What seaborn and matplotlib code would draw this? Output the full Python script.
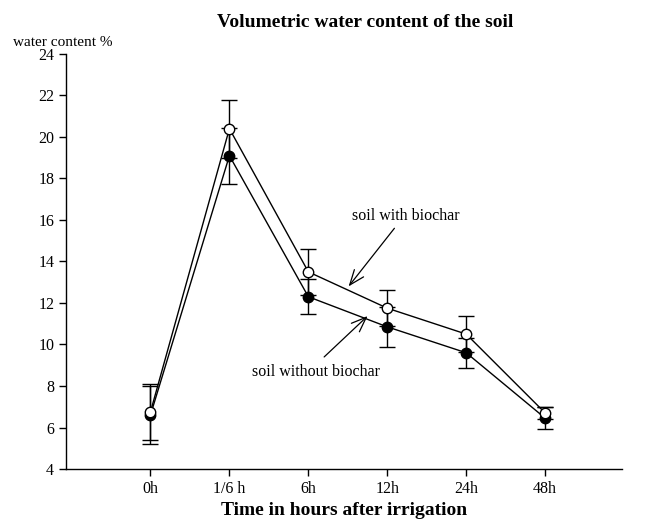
import numpy as np
import pandas as pd
import seaborn as sns
import matplotlib.pyplot as plt

times = ["0h", "1/6 h", "6h", "12h", "24h", "48h"]
with_biochar = [6.75, 20.4, 13.5, 11.75, 10.5, 6.7]
with_biochar_err = [1.35, 1.4, 1.1, 0.87, 0.87, 0.3]
without_biochar = [6.6, 19.1, 12.3, 10.85, 9.6, 6.45]
without_biochar_err = [1.4, 1.35, 0.85, 0.97, 0.72, 0.53]

sns.set_theme(style="ticks")
plt.rcParams["font.family"] = ["Liberation Serif", "DejaVu Serif"]
plt.rcParams["text.color"] = "black"

pos = np.arange(len(times))
df = pd.concat([
    pd.DataFrame({"pos": pos, "value": without_biochar, "err": without_biochar_err,
                  "series": "soil without biochar"}),
    pd.DataFrame({"pos": pos, "value": with_biochar, "err": with_biochar_err,
                  "series": "soil with biochar"}),
])

fig = plt.figure(figsize=(6.47, 5.21), dpi=100)
ax = fig.add_axes([0.102, 0.0998, 0.859, 0.7966])

styles = {
    "soil without biochar": "black",
    "soil with biochar": "white",
}
for name, face in styles.items():
    sub = df[df["series"] == name]
    ax.errorbar(sub["pos"], sub["value"], yerr=sub["err"], fmt="none",
                ecolor="black", elinewidth=1, capsize=5.5, capthick=1, zorder=2)
    sns.lineplot(data=sub, x="pos", y="value", ax=ax, color="black",
                 linewidth=1, marker="o", markersize=7.5,
                 markerfacecolor=face, markeredgecolor="black",
                 markeredgewidth=1, zorder=3)

ax.set_xlim(-1.07, 5.97)
ax.set_ylim(4, 24)
ax.set_yticks(range(4, 25, 2))
ax.set_xticks(pos)
ax.set_xticklabels(times)
ax.tick_params(axis="both", labelsize=11.5, direction="out", length=5,
               width=1, color="black", labelcolor="black")
for s in ["top", "right"]:
    ax.spines[s].set_visible(False)
for s in ["left", "bottom"]:
    ax.spines[s].set_color("black")
    ax.spines[s].set_linewidth(1)

ax.set_xlabel("Time in hours after irrigation", fontsize=14,
              fontweight="bold", labelpad=4, color="black")
ax.set_ylabel("")
fig.text(0.564, 0.957, "Volumetric water content of the soil", ha="center",
         va="center", fontsize=14, fontweight="bold")
fig.text(0.02, 0.918, "water content %", ha="left", va="center", fontsize=11)

arrow = dict(arrowstyle="->,head_length=0.9,head_width=0.35", color="black",
             lw=0.9, shrinkA=0, shrinkB=0)
ax.text(3.24, 16.2, "soil with biochar", ha="center", va="center", fontsize=11.5)
ax.annotate("", xy=(2.51, 12.8), xytext=(3.09, 15.6), arrowprops=arrow)
ax.text(2.1, 8.67, "soil without biochar", ha="center", va="center", fontsize=11.5)
ax.annotate("", xy=(2.75, 11.37), xytext=(2.2, 9.4), arrowprops=arrow)

plt.savefig("out.png", dpi=100)
